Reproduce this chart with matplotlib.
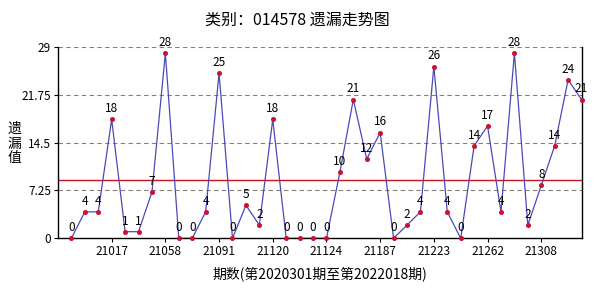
import matplotlib
matplotlib.use('Agg')
from matplotlib import pyplot as plt
import numpy as np

plt.rcParams['font.family'] = ['Noto Sans CJK SC', 'DejaVu Sans']

values = [0, 4, 4, 18, 1, 1, 7, 28, 0, 0, 4, 25, 0, 5, 2, 18, 0, 0, 0, 0,
          10, 21, 12, 16, 0, 2, 4, 26, 4, 0, 14, 17, 4, 28, 2, 8, 14, 24, 21]
tick_labels = ['21017', '21058', '21091', '21120', '21124', '21187', '21223', '21262', '21308']
y_ticks = [0, 7.25, 14.5, 21.75, 29]
y_tick_labels = ['0', '7.25', '14.5', '21.75', '29']

x = np.arange(1, len(values) + 1)

fig = plt.figure(figsize=(5.94, 2.93), dpi=100)
ax = fig.add_axes([0.0976, 0.1867, 0.8814, 0.6539])

for yv in y_ticks[1:]:
    ax.axhline(yv, color='#808080', linestyle=(0, (4, 3)), linewidth=0.8, zorder=1)

ax.axhline(np.mean(values), color='#cc1122', linewidth=1.0, zorder=2)

ax.plot(x, values, color='#4a4ab8', linewidth=0.9, zorder=3)
ax.plot(x, values, linestyle='none', marker='o', markersize=2.6,
        color='#cc1133', zorder=4, clip_on=False)

for xi, v in zip(x, values):
    ax.annotate(str(v), (xi, v), xytext=(0, 3), textcoords='offset points',
                ha='center', va='bottom', fontsize=8.5, color='black',
                annotation_clip=False)

ax.set_xlim(0, len(values))
ax.set_ylim(0, 29)
ax.set_xticks(np.arange(4, 4 * len(tick_labels) + 1, 4))
ax.set_xticklabels(tick_labels, fontsize=8.5)
ax.set_yticks(y_ticks)
ax.set_yticklabels(y_tick_labels, fontsize=8.5)
ax.tick_params(axis='both', length=3, width=0.8, pad=2)

ax.spines['top'].set_visible(False)
for s in ['left', 'right', 'bottom']:
    ax.spines[s].set_linewidth(1.0)
    ax.spines[s].set_color('black')

ax.set_xlabel('期数(第2020301期至第2022018期)', fontsize=10, labelpad=6)
fig.text(0.025, 0.51, '遗\n漏\n值', ha='center', va='center', fontsize=10, linespacing=1.05)
fig.text(0.50, 0.93, '类别：014578 遗漏走势图', ha='center', va='center', fontsize=11.5)

fig.savefig('out.png', dpi=100)
